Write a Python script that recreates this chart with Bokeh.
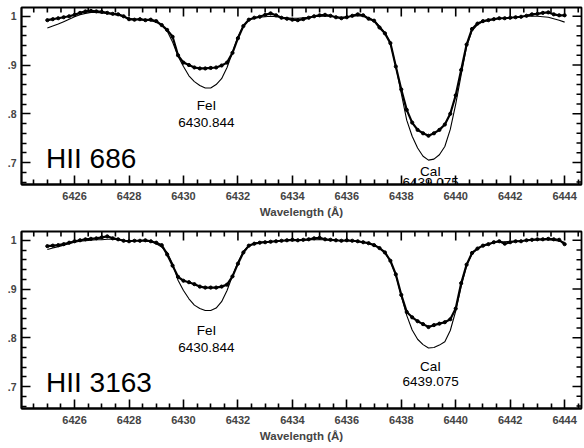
from bokeh.plotting import figure
from bokeh.layouts import column
from bokeh.models import Range1d, LinearAxis, FixedTicker, Label
from bokeh.embed import file_html
from bokeh.resources import INLINE

# ---------------- data ----------------
wavelength = [
    6425.0, 6425.2, 6425.4, 6425.6, 6425.8, 6426.0, 6426.2, 6426.4, 6426.6, 6426.8,
    6427.0, 6427.2, 6427.4, 6427.6, 6427.8, 6428.0, 6428.2, 6428.4, 6428.6, 6428.8,
    6429.0, 6429.2, 6429.4, 6429.6, 6429.8, 6430.0, 6430.2, 6430.4, 6430.6, 6430.8,
    6431.0, 6431.2, 6431.4, 6431.6, 6431.8, 6432.0, 6432.2, 6432.4, 6432.6, 6432.8,
    6433.0, 6433.2, 6433.4, 6433.6, 6433.8, 6434.0, 6434.2, 6434.4, 6434.6, 6434.8,
    6435.0, 6435.2, 6435.4, 6435.6, 6435.8, 6436.0, 6436.2, 6436.4, 6436.6, 6436.8,
    6437.0, 6437.2, 6437.4, 6437.6, 6437.8, 6438.0, 6438.2, 6438.4, 6438.6, 6438.8,
    6439.0, 6439.2, 6439.4, 6439.6, 6439.8, 6440.0, 6440.2, 6440.4, 6440.6, 6440.8,
    6441.0, 6441.2, 6441.4, 6441.6, 6441.8, 6442.0, 6442.2, 6442.4, 6442.6, 6442.8,
    6443.0, 6443.2, 6443.4, 6443.6, 6443.8, 6444.0,
]

obs_hii686 = [
    0.992, 0.994, 0.996, 0.998, 1.000, 1.003, 1.007, 1.010, 1.011, 1.010,
    1.009, 1.007, 1.005, 1.004, 1.000, 0.994, 0.993, 0.994, 0.992, 0.993,
    0.990, 0.982, 0.972, 0.958, 0.920, 0.905, 0.900, 0.895, 0.893, 0.893,
    0.894, 0.895, 0.899, 0.905, 0.925, 0.955, 0.980, 0.993, 0.997, 0.999,
    1.003, 1.006, 1.002, 0.997, 0.995, 0.993, 0.992, 0.994, 0.997, 1.000,
    1.002, 1.003, 1.001, 0.998, 0.996, 0.998, 1.001, 1.004, 1.002, 0.995,
    0.991, 0.977, 0.965, 0.945, 0.897, 0.850, 0.808, 0.782, 0.767, 0.760,
    0.755, 0.760, 0.767, 0.778, 0.800, 0.838, 0.890, 0.942, 0.974, 0.985,
    0.990, 0.992, 0.994, 0.996, 0.996, 0.997, 0.998, 0.999, 1.001, 1.004,
    1.005, 1.007, 1.008, 1.004, 1.002, 1.002,
]

syn_hii686 = [
    0.976, 0.980, 0.984, 0.989, 0.994, 0.999, 1.003, 1.006, 1.008, 1.008,
    1.007, 1.006, 1.004, 1.002, 0.999, 0.996, 0.994, 0.993, 0.992, 0.991,
    0.988, 0.981, 0.970, 0.947, 0.918, 0.897, 0.878, 0.866, 0.858, 0.853,
    0.853, 0.860, 0.872, 0.895, 0.926, 0.958, 0.980, 0.993, 0.996, 0.998,
    0.999, 1.000, 0.999, 0.998, 0.997, 0.996, 0.996, 0.997, 0.998, 0.999,
    1.000, 1.000, 1.000, 0.999, 0.998, 0.999, 1.000, 1.001, 1.000, 0.997,
    0.992, 0.980, 0.966, 0.945, 0.897, 0.842, 0.787, 0.754, 0.730, 0.713,
    0.705, 0.707, 0.716, 0.733, 0.768, 0.820, 0.880, 0.938, 0.970, 0.983,
    0.989, 0.992, 0.994, 0.995, 0.996, 0.997, 0.998, 0.999, 1.000, 1.000,
    1.000, 0.999, 0.998, 0.995, 0.992, 0.988,
]

obs_hii3163 = [
    0.988, 0.989, 0.990, 0.992, 0.995, 0.998, 1.000, 1.002, 1.003, 1.004,
    1.006, 1.008, 1.004, 1.002, 0.999, 0.998, 0.999, 0.999, 1.000, 0.998,
    0.995, 0.990, 0.971, 0.948, 0.925, 0.917, 0.914, 0.910, 0.905, 0.903,
    0.903, 0.903, 0.905, 0.909, 0.926, 0.952, 0.975, 0.989, 0.993, 0.995,
    0.996, 0.997, 0.998, 0.999, 1.000, 1.001, 1.000, 1.001, 1.002, 1.004,
    1.005, 1.002, 1.001, 1.000, 0.999, 1.000, 0.999, 0.998, 0.996, 0.994,
    0.990, 0.984, 0.975, 0.958, 0.930, 0.888, 0.853, 0.842, 0.834, 0.828,
    0.822, 0.826, 0.829, 0.832, 0.838, 0.860, 0.912, 0.950, 0.974, 0.983,
    0.989, 0.992, 0.996, 0.998, 0.993, 0.996, 0.998, 0.998, 1.000, 1.001,
    1.002, 1.002, 1.003, 1.002, 1.001, 0.992,
]

syn_hii3163 = [
    0.981, 0.984, 0.987, 0.990, 0.993, 0.996, 0.998, 0.999, 1.000, 1.001,
    1.001, 1.002, 1.002, 1.001, 1.000, 0.999, 0.999, 0.999, 0.998, 0.997,
    0.993, 0.986, 0.975, 0.952, 0.918, 0.897, 0.880, 0.867, 0.860, 0.856,
    0.856, 0.861, 0.874, 0.897, 0.927, 0.955, 0.977, 0.989, 0.994, 0.996,
    0.997, 0.998, 0.998, 0.999, 0.999, 1.000, 1.000, 1.000, 1.001, 1.001,
    1.001, 1.001, 1.000, 1.000, 0.999, 0.999, 0.998, 0.997, 0.996, 0.994,
    0.991, 0.984, 0.974, 0.957, 0.928, 0.886, 0.846, 0.816, 0.797, 0.786,
    0.779, 0.780, 0.785, 0.792, 0.815, 0.855, 0.905, 0.948, 0.972, 0.983,
    0.989, 0.992, 0.995, 0.997, 0.997, 0.998, 0.998, 0.999, 1.000, 1.000,
    1.001, 1.001, 1.001, 1.000, 0.998, 0.996,
]

star_names = ["HII 686", "HII 3163"]
line_ids = ["FeI", "CaI"]
line_wavelengths = ["6430.844", "6439.075"]
line_positions = [6430.844, 6439.075]

x_major_ticks = [6426, 6428, 6430, 6432, 6434, 6436, 6438, 6440, 6442, 6444]
x_minor_ticks = [6424.5, 6425.0, 6425.5, 6426.5, 6427.0, 6427.5, 6428.5, 6429.0, 6429.5,
                 6430.5, 6431.0, 6431.5, 6432.5, 6433.0, 6433.5, 6434.5, 6435.0, 6435.5,
                 6436.5, 6437.0, 6437.5, 6438.5, 6439.0, 6439.5, 6440.5, 6441.0, 6441.5,
                 6442.5, 6443.0, 6443.5, 6444.5]
y_major_ticks = [0.7, 0.8, 0.9, 1.0]
y_minor_ticks = [0.66, 0.68, 0.72, 0.74, 0.76, 0.78, 0.82, 0.84, 0.86, 0.88,
                 0.92, 0.94, 0.96, 0.98]
y_tick_labels = {0.7: ".7", 0.8: ".8", 0.9: ".9", 1.0: "1"}

# label baselines (data units) per panel: (line id, wavelength)
fe_label_y = [(0.817, 0.783), (0.815, 0.781)]
ca_label_y = [(0.682, 0.659), (0.741, 0.710)]

FONT = "Liberation Sans"
X0, X1 = 6424.05, 6444.62
Y0, Y1 = 0.655, 1.018
PX_X = (X1 - X0) / 560
PX_Y = (Y1 - Y0) / 177
MAJ, MIN = 9, 5  # tick lengths in px
TICK_W = 1.6


def make_panel(obs, syn, name, fe_y, ca_y):
    p = figure(width=584, height=224, output_backend="svg", toolbar_location=None,
               x_range=Range1d(X0, X1), y_range=Range1d(Y0, Y1),
               x_axis_location=None, y_axis_location=None,
               min_border_left=21, min_border_right=3, min_border_top=7, min_border_bottom=40)
    p.grid.visible = False
    p.outline_line_color = "black"
    p.outline_line_width = 1.8

    ticks = dict(major_tick_in=MAJ, major_tick_out=0, minor_tick_in=MIN, minor_tick_out=0,
                 major_tick_line_color="black", minor_tick_line_color="black",
                 major_tick_line_width=TICK_W, minor_tick_line_width=TICK_W,
                 axis_line_color="black", axis_line_width=1.8)

    bottom = LinearAxis(ticker=FixedTicker(ticks=x_major_ticks, minor_ticks=x_minor_ticks),
                        axis_label="Wavelength (Å)", **ticks)
    bottom.major_label_text_font = FONT
    bottom.major_label_text_font_style = "bold"
    bottom.major_label_text_font_size = "11px"
    bottom.major_label_standoff = 7
    bottom.axis_label_text_font = FONT
    bottom.axis_label_text_font_style = "bold"
    bottom.axis_label_text_font_size = "11.5px"
    bottom.axis_label_standoff = 3
    p.add_layout(bottom, "below")

    left = LinearAxis(ticker=FixedTicker(ticks=y_major_ticks, minor_ticks=y_minor_ticks), **ticks)
    left.major_label_overrides = y_tick_labels
    left.major_label_text_font = FONT
    left.major_label_text_font_style = "bold"
    left.major_label_text_font_size = "10.5px"
    left.major_label_standoff = 5
    p.add_layout(left, "left")

    # synthetic spectrum (thin line)
    p.line(wavelength, syn, line_color="black", line_width=1.1)
    # observed spectrum (dots)
    p.line(wavelength, obs, line_color="black", line_width=2.2)
    p.scatter(wavelength, obs, size=3.2, color="black")

    # inward ticks on the top and right frame edges
    tk = dict(line_color="black", line_width=TICK_W)
    for tl, ln in ((x_major_ticks, MAJ), (x_minor_ticks, MIN)):
        p.multi_line(xs=[[t, t] for t in tl], ys=[[Y1, Y1 - ln * PX_Y] for _ in tl], **tk)
    for tl, ln in ((y_major_ticks, MAJ), (y_minor_ticks, MIN)):
        p.multi_line(xs=[[X1, X1 - ln * PX_X] for _ in tl], ys=[[t, t] for t in tl], **tk)

    for lid, lw, lx, (yb1, yb2) in zip(line_ids, line_wavelengths, line_positions, [fe_y, ca_y]):
        p.add_layout(Label(x=lx, y=yb1, text=lid, text_align="center", text_baseline="alphabetic",
                           text_font=FONT, text_font_size="13.5px", text_color="black"))
        p.add_layout(Label(x=lx, y=yb2, text=lw, text_align="center", text_baseline="alphabetic",
                           text_font=FONT, text_font_size="13.5px", text_color="black"))

    p.add_layout(Label(x=6424.95, y=0.708, text=name, text_align="left", text_baseline="alphabetic",
                       text_font=FONT, text_font_size="28px", text_color="black"))
    return p


p1 = make_panel(obs_hii686, syn_hii686, star_names[0], fe_label_y[0], ca_label_y[0])
p2 = make_panel(obs_hii3163, syn_hii3163, star_names[1], fe_label_y[1], ca_label_y[1])

layout = column(p1, p2, spacing=0)
open("out.html", "w").write(file_html(layout, INLINE))
